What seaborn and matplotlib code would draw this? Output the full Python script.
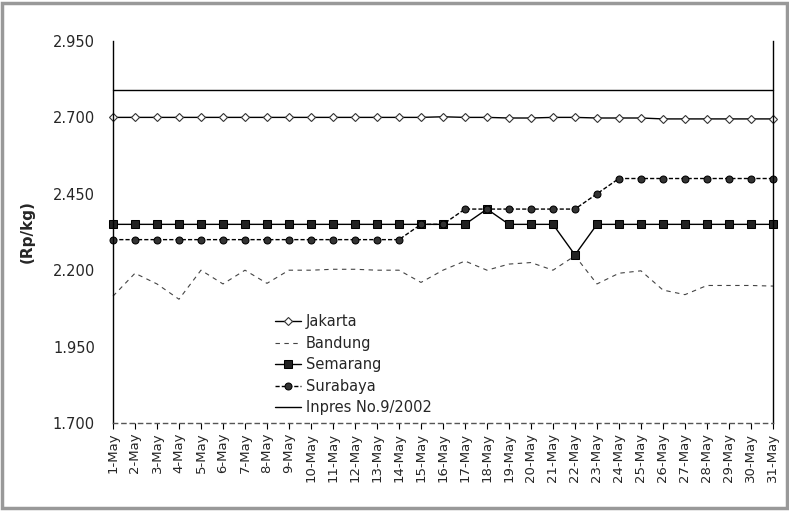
import matplotlib
matplotlib.use("Agg")
import matplotlib.pyplot as plt
import seaborn as sns
import pandas as pd
import numpy as np
from matplotlib.patches import Rectangle

days = [f"{d}-May" for d in range(1, 32)]

jakarta = [2.700, 2.700, 2.700, 2.700, 2.700, 2.700, 2.700, 2.700, 2.700, 2.700,
           2.700, 2.700, 2.700, 2.700, 2.700, 2.702, 2.700, 2.700, 2.698, 2.698,
           2.700, 2.700, 2.698, 2.698, 2.698, 2.695, 2.695, 2.695, 2.695, 2.695, 2.695]
bandung = [2.115, 2.190, 2.155, 2.105, 2.200, 2.155, 2.200, 2.157, 2.200, 2.200,
           2.203, 2.203, 2.200, 2.200, 2.160, 2.200, 2.230, 2.200, 2.220, 2.225,
           2.200, 2.247, 2.155, 2.190, 2.198, 2.135, 2.120, 2.150, 2.150, 2.150, 2.148]
semarang = [2.350] * 17 + [2.400, 2.350, 2.350, 2.350, 2.250] + [2.350] * 9
surabaya = [2.300] * 14 + [2.350, 2.350, 2.400, 2.400, 2.400, 2.400, 2.400, 2.400,
                           2.450] + [2.500] * 8
inpres = [2.790] * 31

yticks = [1.700, 1.950, 2.200, 2.450, 2.700, 2.950]
ytick_labels = ["1.700", "1.950", "2.200", "2.450", "2.700", "2.950"]

sns.set_theme(style="white")
plt.rcParams['font.family'] = ['DejaVu Sans']

fig = plt.figure(figsize=(7.89, 5.11), dpi=100)
ax = fig.add_axes([0.1432, 0.1722, 0.8365, 0.7476])

x = np.arange(len(days))
df = pd.DataFrame({"x": x, "Jakarta": jakarta, "Bandung": bandung,
                   "Semarang": semarang, "Surabaya": surabaya,
                   "Inpres No.9/2002": inpres})

common = dict(ax=ax, color="black", linewidth=1.0, clip_on=False)
sns.lineplot(data=df, x="x", y="Jakarta", label="Jakarta", marker="D",
             markersize=4.5, markerfacecolor="white", markeredgecolor="#333333",
             markeredgewidth=0.8, **common)
sns.lineplot(data=df, x="x", y="Bandung", label="Bandung", dashes=(4, 4),
             **{**common, "linewidth": 0.8, "color": "#444444"})
sns.lineplot(data=df, x="x", y="Semarang", label="Semarang", marker="s",
             markersize=6, markerfacecolor="#222222", markeredgecolor="black",
             **common)
sns.lineplot(data=df, x="x", y="Surabaya", label="Surabaya", marker="o",
             markersize=5, markerfacecolor="#333333", markeredgecolor="black",
             dashes=(3, 1.5), **common)
sns.lineplot(data=df, x="x", y="Inpres No.9/2002", label="Inpres No.9/2002",
             **common)

ax.set_xlim(0, 30)
ax.set_ylim(1.700, 2.950)
ax.set_xticks(x)
ax.set_xticklabels(days, rotation=90, fontsize=9.5)
ax.set_yticks(yticks)
ax.set_yticklabels(ytick_labels, fontsize=10.5)
ax.set_xlabel("")
ax.set_ylabel("(Rp/kg)", fontsize=11, fontweight="bold")
ax.yaxis.set_label_coords(-0.118, 0.5)
ax.tick_params(axis="x", direction="out", length=4, width=0.8, color="black",
               bottom=True, pad=3)
ax.tick_params(axis="y", length=0, pad=13)

for side in ["left", "right", "bottom"]:
    ax.spines[side].set_visible(True)
    ax.spines[side].set_color("black")
    ax.spines[side].set_linewidth(1.0)
ax.spines["top"].set_visible(False)
ax.spines["bottom"].set_linestyle((0, (3, 3)))
ax.spines["bottom"].set_color("#555555")

leg = ax.legend(loc="upper left", bbox_to_anchor=(0.237, 0.30), frameon=False,
                fontsize=10.5, handlelength=1.8, handletextpad=0.3,
                labelspacing=0.45, borderaxespad=0)

fig.patches.append(Rectangle((0.003, 0.006), 0.994, 0.988, transform=fig.transFigure,
                             fill=False, edgecolor="#999999", linewidth=2.5))

fig.savefig("out.png", dpi=100)
